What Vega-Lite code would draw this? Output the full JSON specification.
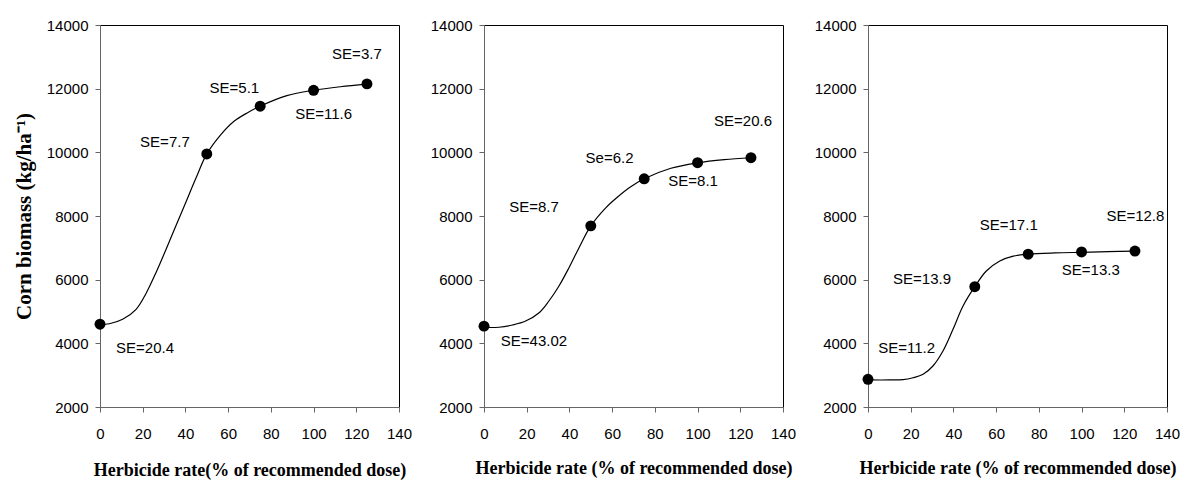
{
  "$schema": "https://vega.github.io/schema/vega-lite/v6.json",
  "background": "white",
  "padding": {"left": 12, "top": 17, "right": 5, "bottom": 0},
  "spacing": 16,
  "datasets": {
    "points": [
      {"panel": 1, "x": 0, "y": 4600}, {"panel": 1, "x": 50, "y": 9950}, {"panel": 1, "x": 75, "y": 11450}, {"panel": 1, "x": 100, "y": 11950}, {"panel": 1, "x": 125, "y": 12150},
      {"panel": 2, "x": 0, "y": 4540}, {"panel": 2, "x": 50, "y": 7690}, {"panel": 2, "x": 75, "y": 9170}, {"panel": 2, "x": 100, "y": 9675}, {"panel": 2, "x": 125, "y": 9830},
      {"panel": 3, "x": 0, "y": 2870}, {"panel": 3, "x": 50, "y": 5780}, {"panel": 3, "x": 75, "y": 6800}, {"panel": 3, "x": 100, "y": 6870}, {"panel": 3, "x": 125, "y": 6900}
    ],
    "curve": [
      {"panel": 1, "x": 0, "y": 4590}, {"panel": 1, "x": 4.4, "y": 4615}, {"panel": 1, "x": 10.6, "y": 4755}, {"panel": 1, "x": 16.9, "y": 5069}, {"panel": 1, "x": 21.5, "y": 5560}, {"panel": 1, "x": 26.2, "y": 6220}, {"panel": 1, "x": 30.9, "y": 6950}, {"panel": 1, "x": 35.6, "y": 7700}, {"panel": 1, "x": 40.3, "y": 8450}, {"panel": 1, "x": 45, "y": 9200}, {"panel": 1, "x": 50, "y": 9950}, {"panel": 1, "x": 56.7, "y": 10566}, {"panel": 1, "x": 62.9, "y": 10984}, {"panel": 1, "x": 69.1, "y": 11245}, {"panel": 1, "x": 75, "y": 11450}, {"panel": 1, "x": 87.5, "y": 11780}, {"panel": 1, "x": 100, "y": 11950}, {"panel": 1, "x": 112.5, "y": 12060}, {"panel": 1, "x": 125, "y": 12140},
      {"panel": 2, "x": 0, "y": 4500}, {"panel": 2, "x": 7, "y": 4505}, {"panel": 2, "x": 13.3, "y": 4576}, {"panel": 2, "x": 19.5, "y": 4700}, {"panel": 2, "x": 25.8, "y": 4962}, {"panel": 2, "x": 30.4, "y": 5330}, {"panel": 2, "x": 35.1, "y": 5801}, {"panel": 2, "x": 39.8, "y": 6377}, {"panel": 2, "x": 44.5, "y": 7005}, {"panel": 2, "x": 50, "y": 7690}, {"panel": 2, "x": 56.9, "y": 8250}, {"panel": 2, "x": 62.4, "y": 8590}, {"panel": 2, "x": 68, "y": 8890}, {"panel": 2, "x": 75, "y": 9170}, {"panel": 2, "x": 87.5, "y": 9500}, {"panel": 2, "x": 100, "y": 9670}, {"panel": 2, "x": 112.5, "y": 9770}, {"panel": 2, "x": 125, "y": 9830},
      {"panel": 3, "x": 0, "y": 2850}, {"panel": 3, "x": 10, "y": 2850}, {"panel": 3, "x": 16.4, "y": 2860}, {"panel": 3, "x": 21.1, "y": 2920}, {"panel": 3, "x": 25.8, "y": 3026}, {"panel": 3, "x": 30.4, "y": 3288}, {"panel": 3, "x": 35.1, "y": 3760}, {"panel": 3, "x": 39.8, "y": 4440}, {"panel": 3, "x": 44.5, "y": 5173}, {"panel": 3, "x": 50, "y": 5780}, {"panel": 3, "x": 55.4, "y": 6272}, {"panel": 3, "x": 61.7, "y": 6586}, {"panel": 3, "x": 68, "y": 6740}, {"panel": 3, "x": 75, "y": 6800}, {"panel": 3, "x": 87.5, "y": 6840}, {"panel": 3, "x": 100, "y": 6860}, {"panel": 3, "x": 112.5, "y": 6880}, {"panel": 3, "x": 125, "y": 6895}
    ],
    "labels": [
      {"panel": 1, "x": 120.3, "y": 13080, "label": "SE=3.7"},
      {"panel": 1, "x": 62.9, "y": 12010, "label": "SE=5.1"},
      {"panel": 1, "x": 104.7, "y": 11195, "label": "SE=11.6"},
      {"panel": 1, "x": 30.4, "y": 10335, "label": "SE=7.7"},
      {"panel": 1, "x": 21.1, "y": 3845, "label": "SE=20.4"},
      {"panel": 2, "x": 121.3, "y": 10985, "label": "SE=20.6"},
      {"panel": 2, "x": 58.8, "y": 9830, "label": "Se=6.2"},
      {"panel": 2, "x": 97.9, "y": 9100, "label": "SE=8.1"},
      {"panel": 2, "x": 23.4, "y": 8285, "label": "SE=8.7"},
      {"panel": 2, "x": 23.4, "y": 4075, "label": "SE=43.02"},
      {"panel": 3, "x": 125.2, "y": 8000, "label": "SE=12.8"},
      {"panel": 3, "x": 65.9, "y": 7715, "label": "SE=17.1"},
      {"panel": 3, "x": 104.3, "y": 6295, "label": "SE=13.3"},
      {"panel": 3, "x": 25.3, "y": 6010, "label": "SE=13.9"},
      {"panel": 3, "x": 18.1, "y": 3865, "label": "SE=11.2"}
    ]
  },
  "config": {
    "view": {"stroke": "#000", "strokeWidth": 1},
    "axis": {
      "grid": false,
      "domainColor": "#666",
      "tickColor": "#666",
      "tickSize": 5,
      "labelFlush": false,
      "labelFont": "Liberation Sans",
      "labelFontSize": 15,
      "labelColor": "#000",
      "titleFont": "Liberation Serif",
      "titleFontWeight": "bold",
      "titleFontSize": 18,
      "titleColor": "#000"
    },
    "axisX": {"labelPadding": 14, "titlePadding": 18},
    "axisY": {"labelPadding": 7, "titlePadding": 12}
  },
  "hconcat": [
    {
      "width": 299, "height": 382,
      "layer": [
        {
          "data": {"name": "curve"},
          "transform": [{"filter": "datum.panel == 1"}],
          "mark": {"type": "line", "interpolate": "catmull-rom", "color": "#000", "strokeWidth": 1.2},
          "encoding": {
            "x": {"field": "x", "type": "quantitative", "scale": {"domain": [0, 140], "nice": false}, "axis": {"values": [0, 20, 40, 60, 80, 100, 120, 140], "title": "Herbicide rate(% of recommended dose)", "titlePadding": 20}},
            "y": {"field": "y", "type": "quantitative", "scale": {"domain": [2000, 14000], "nice": false}, "axis": {"values": [2000, 4000, 6000, 8000, 10000, 12000, 14000], "format": "d", "title": "Corn biomass (kg/ha⁻¹)", "titleFontSize": 21}}
          }
        },
        {
          "data": {"name": "points"},
          "transform": [{"filter": "datum.panel == 1"}],
          "mark": {"type": "point", "filled": true, "color": "#000", "size": 120, "opacity": 1},
          "encoding": {"x": {"field": "x", "type": "quantitative"}, "y": {"field": "y", "type": "quantitative"}}
        },
        {
          "data": {"name": "labels"},
          "transform": [{"filter": "datum.panel == 1"}],
          "mark": {"type": "text", "font": "Liberation Sans", "fontSize": 15, "color": "#000"},
          "encoding": {"x": {"field": "x", "type": "quantitative"}, "y": {"field": "y", "type": "quantitative"}, "text": {"field": "label"}}
        }
      ]
    },
    {
      "width": 299, "height": 382,
      "layer": [
        {
          "data": {"name": "curve"},
          "transform": [{"filter": "datum.panel == 2"}],
          "mark": {"type": "line", "interpolate": "catmull-rom", "color": "#000", "strokeWidth": 1.2},
          "encoding": {
            "x": {"field": "x", "type": "quantitative", "scale": {"domain": [0, 140], "nice": false}, "axis": {"values": [0, 20, 40, 60, 80, 100, 120, 140], "title": "Herbicide rate (% of recommended dose)"}},
            "y": {"field": "y", "type": "quantitative", "scale": {"domain": [2000, 14000], "nice": false}, "axis": {"values": [2000, 4000, 6000, 8000, 10000, 12000, 14000], "format": "d", "title": null}}
          }
        },
        {
          "data": {"name": "points"},
          "transform": [{"filter": "datum.panel == 2"}],
          "mark": {"type": "point", "filled": true, "color": "#000", "size": 120, "opacity": 1},
          "encoding": {"x": {"field": "x", "type": "quantitative"}, "y": {"field": "y", "type": "quantitative"}}
        },
        {
          "data": {"name": "labels"},
          "transform": [{"filter": "datum.panel == 2"}],
          "mark": {"type": "text", "font": "Liberation Sans", "fontSize": 15, "color": "#000"},
          "encoding": {"x": {"field": "x", "type": "quantitative"}, "y": {"field": "y", "type": "quantitative"}, "text": {"field": "label"}}
        }
      ]
    },
    {
      "width": 299, "height": 382,
      "layer": [
        {
          "data": {"name": "curve"},
          "transform": [{"filter": "datum.panel == 3"}],
          "mark": {"type": "line", "interpolate": "catmull-rom", "color": "#000", "strokeWidth": 1.2},
          "encoding": {
            "x": {"field": "x", "type": "quantitative", "scale": {"domain": [0, 140], "nice": false}, "axis": {"values": [0, 20, 40, 60, 80, 100, 120, 140], "title": "Herbicide rate (% of recommended dose)"}},
            "y": {"field": "y", "type": "quantitative", "scale": {"domain": [2000, 14000], "nice": false}, "axis": {"values": [2000, 4000, 6000, 8000, 10000, 12000, 14000], "format": "d", "title": null}}
          }
        },
        {
          "data": {"name": "points"},
          "transform": [{"filter": "datum.panel == 3"}],
          "mark": {"type": "point", "filled": true, "color": "#000", "size": 120, "opacity": 1},
          "encoding": {"x": {"field": "x", "type": "quantitative"}, "y": {"field": "y", "type": "quantitative"}}
        },
        {
          "data": {"name": "labels"},
          "transform": [{"filter": "datum.panel == 3"}],
          "mark": {"type": "text", "font": "Liberation Sans", "fontSize": 15, "color": "#000"},
          "encoding": {"x": {"field": "x", "type": "quantitative"}, "y": {"field": "y", "type": "quantitative"}, "text": {"field": "label"}}
        }
      ]
    }
  ]
}
